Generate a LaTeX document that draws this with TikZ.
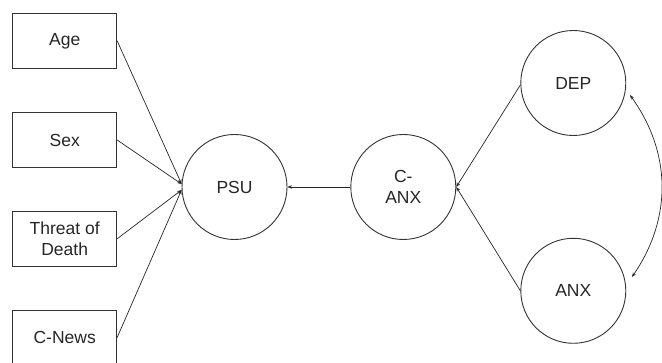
\documentclass[tikz,border=0pt]{standalone}
\usepackage{fontspec}
\setmainfont{Liberation Sans}
\usetikzlibrary{arrows.meta}
\begin{document}
\begin{tikzpicture}[x=1pt,y=-1pt,
  every node/.style={font=\fontsize{17.5}{21}\selectfont, text=black!85},
  varbox/.style={draw=black!80, line width=0.9pt, rectangle, minimum width=104pt, minimum height=55pt, inner sep=0pt, align=center},
  latent/.style={draw=black!80, line width=0.9pt, circle, minimum size=105pt, inner sep=0pt, align=center},
  conn/.style={draw=black!85, line width=0.7pt, -{Stealth[length=4.5pt,width=3.5pt]}},
  biconn/.style={draw=black!85, line width=0.7pt, {Stealth[length=4.5pt,width=3.5pt]}-{Stealth[length=4.5pt,width=3.5pt]}}]
\useasboundingbox (0,0) rectangle (662,363);
\clip (0,0) rectangle (662,363);
\fill[white] (0,0) rectangle (662,363);
\node[varbox] (age) at (64.7,40.8) {Age};
\node[varbox] (sex) at (64.7,140) {Sex};
\node[varbox] (tod) at (64.7,238.8) {Threat of\\Death};
\node[varbox] (news) at (64.7,337.5) {C-News};
\node[latent] (psu) at (234.5,187) {PSU};
\node[latent] (canx) at (403.3,187) {C-\\ANX};
\node[latent] (dep) at (573.3,83) {DEP};
\node[latent] (anx) at (573.3,290.8) {ANX};
\coordinate (pinA) at ([yshift=3pt]psu.west);
\coordinate (pinB) at ([yshift=-3pt]psu.west);
\coordinate (cdep) at (630,95);
\coordinate (canxr) at (632,277);
\draw[conn] (age.east) -- (pinA);
\draw[conn] (sex.east) -- (pinA);
\draw[conn] (tod.east) -- (pinB);
\draw[conn] (news.east) -- (pinB);
\draw[conn] (canx.west) -- (psu.east);
\draw[conn] ([yshift=-2pt]dep.west) -- (canx.east);
\draw[conn] (anx.west) -- (canx.east);
\draw[biconn] (cdep) to[bend left=35] (canxr);
\end{tikzpicture}
\end{document}
